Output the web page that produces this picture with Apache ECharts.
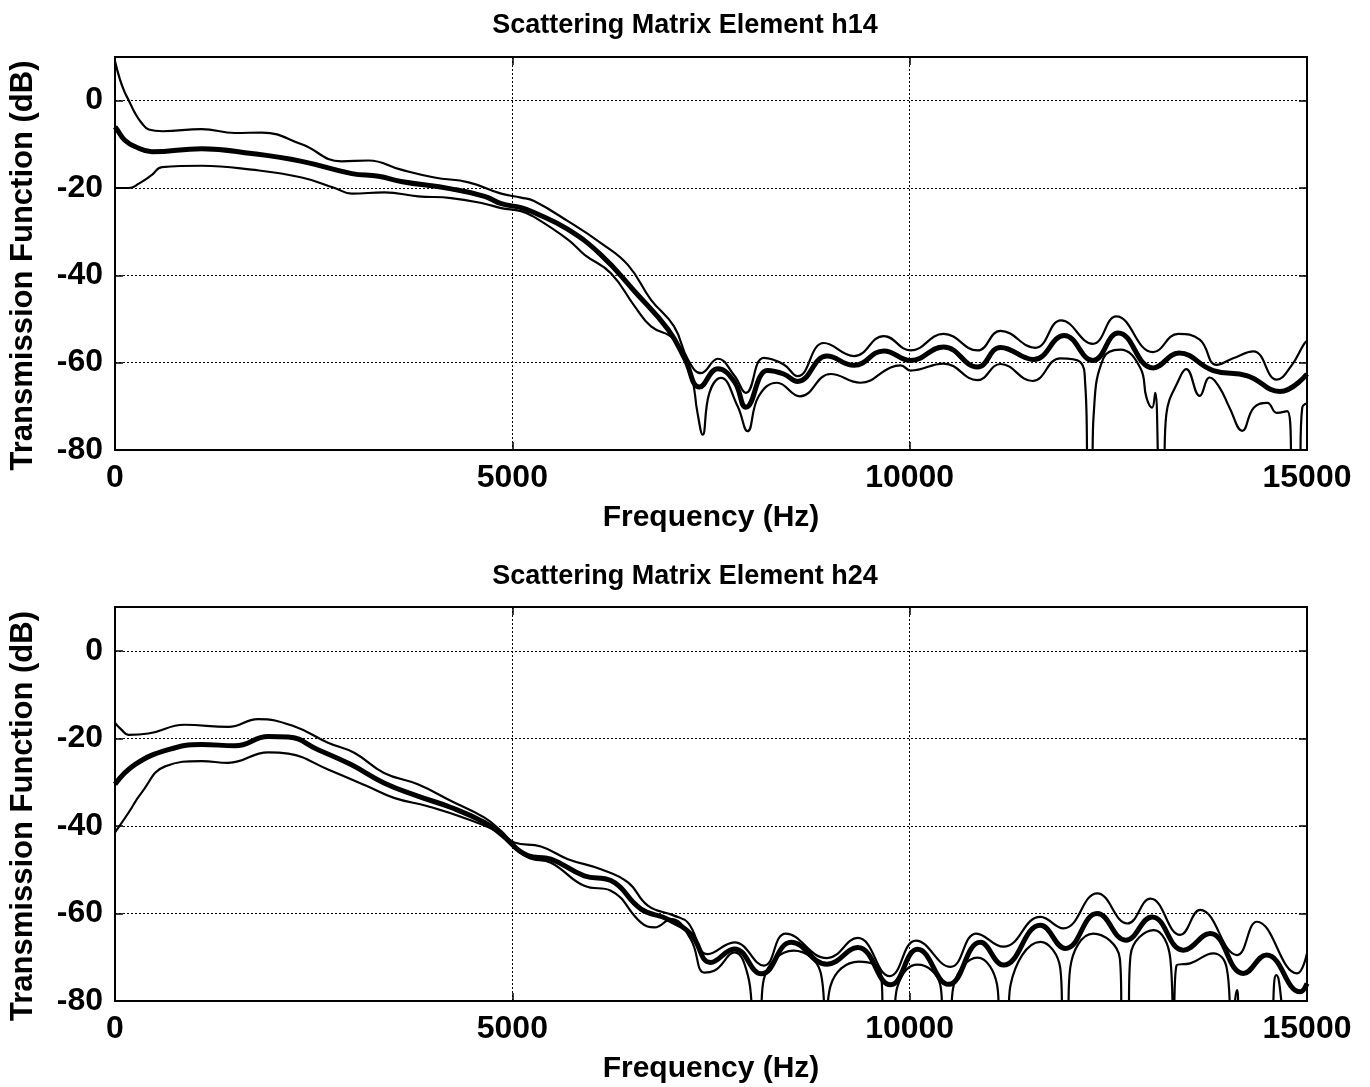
<!DOCTYPE html>
<html>
<head>
<meta charset="utf-8">
<title>Scattering Matrix Elements</title>
<script src="https://cdn.jsdelivr.net/npm/echarts@6/dist/echarts.min.js"></script>
<style>
  html, body { margin: 0; padding: 0; background: #fff; }
  #chart { width: 1370px; height: 1087px; }
</style>
</head>
<body>
<div id="chart"></div>
<script>
// panel titles and axis text
var titles = ['Scattering Matrix Element h14', 'Scattering Matrix Element h24'];
var xName = 'Frequency (Hz)';
var yName = 'Transmission Function (dB)';
var xTicks = [0, 5000, 10000, 15000];
var yTicks = [-80, -60, -40, -20, 0];

// values below -80 run off the bottom of the axes (clipped)
// h14: [frequency Hz, dB]
var h14Upper = [[0,9],[60,5],[120,2],[175,0],[250,-2.8],[330,-5],[425,-6.6],[600,-7],[1090,-6.5],[1510,-7.4],[1850,-7.3],
  [2350,-10],[2850,-13.9],[3190,-13.7],[3600,-15.8],[4020,-17.6],[4450,-18.7],[4860,-21.3],[5110,-22.2],[5273,-23],
  [5700,-27.6],[6115,-32.6],[6454,-37.6],[6745,-45.6],[7035,-51.7],[7210,-59.3],[7375,-62.4],[7585,-59.1],[7795,-63],
  [7940,-66.9],[8165,-58.9],[8415,-60.4],[8590,-63.1],[8920,-55.5],[9300,-58.5],[9675,-53.9],[10012,-57.2],[10427,-53.4],
  [10853,-57.2],[11143,-52.7],[11580,-56.6],[11905,-50.3],[12305,-55.7],[12600,-49.4],[13063,-57.6],[13380,-53.4],
  [13650,-54.7],[13860,-60.5],[14070,-59],[14325,-57.4],[14618,-63.9],[14800,-60.8],[14960,-55.8],[15000,-55]];
var h14Mean = [[0,-6],[25,-6.6],[120,-9],[250,-10.5],[465,-11.7],[1090,-11],[1720,-12.1],[2350,-13.9],[2980,-16.7],
  [3315,-17.3],[3600,-18.5],[4230,-20.2],[4650,-21.9],[4860,-23.6],[5110,-24.5],[5273,-25.6],[5700,-29.5],[6115,-35.3],
  [6540,-43.7],[6960,-52.4],[7170,-59.1],[7355,-65.6],[7585,-61.4],[7795,-64.4],[7940,-70.2],[8210,-61.8],[8415,-62.6],
  [8590,-64.3],[8960,-58.5],[9300,-60.6],[9675,-57.3],[10012,-59.5],[10427,-56.4],[10853,-61],[11143,-56.5],[11560,-59.3],
  [11945,-53.8],[12305,-59.5],[12625,-53.2],[13063,-61.2],[13390,-57.8],[13820,-61.8],[14250,-63],[14660,-66.6],[15000,-62.6]];
var h14Lower = [[0,-20],[175,-20],[300,-19],[465,-17],[590,-15.2],[1090,-14.9],[1720,-15.8],[2350,-17.6],[2765,-20],
  [2980,-21.3],[3390,-21],[3815,-21.9],[4230,-22.3],[4650,-23.6],[4860,-24.6],[5110,-25.3],[5273,-26.6],[5700,-31.8],
  [5910,-35.3],[6240,-39.5],[6540,-47.1],[6745,-51.7],[7035,-54.7],[7245,-62.4],[7330,-71.5],[7395,-76.5],[7480,-66.9],
  [7625,-63.5],[7835,-70],[7960,-75.7],[8100,-67.7],[8330,-64.6],[8620,-67.7],[9005,-62.6],[9380,-64.6],[9760,-61.1],
  [9886,-60.6],[10012,-61.8],[10427,-60.2],[10853,-64],[11143,-60.3],[11545,-64.2],[11896,-59],[12145,-59.8],[12210,-65.2],
  [12250,-86],[12290,-86],[12315,-72],[12440,-58.9],[12650,-57],[12900,-61.1],[12980,-68],[13050,-70.3],[13090,-66.9],
  [13150,-86],[13190,-86],[13230,-71.8],[13400,-63.4],[13480,-61.5],[13650,-67.6],[13775,-63.4],[13900,-65.7],
  [14025,-70.3],[14185,-75.6],[14330,-70.3],[14500,-69.2],[14620,-71.5],[14750,-71.1],[14830,-86],[14895,-86],
  [14940,-70.3],[15000,-69.3]];

// h24: [frequency Hz, dB]
var h24Upper = [[0,-16.5],[80,-18],[170,-19.2],[420,-18.9],[875,-16.9],[1425,-17.4],[1800,-15.6],[2260,-17.3],[2680,-21],
  [3010,-23.3],[3385,-27.9],[3810,-30.5],[4230,-34.3],[4650,-38.1],[4860,-41.2],[5025,-43.8],[5360,-44.7],[5700,-47.6],
  [6115,-49.9],[6455,-52.9],[6705,-58.2],[7035,-60.5],[7210,-62.1],[7460,-69.3],[7795,-66.6],[8165,-71.9],[8440,-64.6],
  [8960,-70.2],[9345,-65.6],[9750,-74.3],[10080,-66.2],[10514,-72.2],[10840,-64.6],[11180,-67.6],[11645,-60.8],
  [11935,-63.4],[12360,-55.4],[12740,-62.3],[13030,-56.6],[13405,-64.9],[13655,-59.2],[14120,-69.5],[14370,-61.9],
  [14875,-73.7],[15000,-69.1]];
var h24Mean = [[0,-30.5],[250,-26],[670,-22.6],[1090,-21.4],[1510,-21.7],[1930,-19.6],[2180,-19.7],[2555,-22.6],
  [2970,-26],[3385,-30.2],[3810,-33.2],[4230,-35.8],[4650,-39.2],[4860,-41.9],[5195,-46.8],[5485,-47.6],[5905,-51.4],
  [6240,-52.5],[6620,-59],[6955,-61.3],[7245,-64.7],[7495,-71.2],[7795,-68.1],[8135,-73.8],[8510,-66.6],[8960,-71.6],
  [9345,-67.8],[9760,-76.3],[10100,-68.2],[10490,-76.2],[10890,-66.6],[11180,-71.8],[11645,-62.7],[11960,-68],
  [12360,-60],[12720,-66.1],[13050,-60.8],[13445,-68.4],[13780,-64.6],[14200,-73.7],[14490,-69.5],[14915,-77.9],[15000,-76]];
var h24Lower = [[0,-41.5],[170,-37],[335,-32.4],[630,-26.4],[1090,-25.2],[1425,-25.6],[1930,-23.2],[2180,-23.5],
  [2680,-27.1],[3170,-30.9],[3510,-33.6],[3935,-35.5],[4440,-38.5],[4860,-41.9],[5195,-47.2],[5485,-48.4],[5905,-53.7],
  [6240,-54.8],[6620,-62.1],[6790,-63.2],[7000,-61.3],[7245,-65.9],[7415,-73.5],[7540,-73.1],[7795,-68.9],[7965,-74.2],
  [8050,-86],[8110,-86],[8165,-75],[8540,-68.5],[8880,-73.5],[8945,-86],[9005,-76.5],[9360,-71],[9635,-73.5],[9680,-86],
  [9780,-86],[9850,-76.5],[10100,-71.7],[10385,-76.3],[10430,-86],[10500,-86],[10556,-76.3],[10853,-70.1],[11100,-76.3],
  [11140,-86],[11225,-86],[11270,-76.3],[11645,-66.5],[11895,-72.5],[11935,-86],[11980,-86],[12020,-72.5],[12310,-64.6],
  [12645,-70.3],[12680,-86],[12740,-86],[12780,-69.5],[13070,-63.8],[13280,-70.3],[13320,-86],[13360,-71.8],
  [13530,-71.4],[13820,-69.1],[13990,-72.5],[14050,-86],[14120,-77.5],[14160,-86],[14500,-86],[14615,-74.1],
  [14790,-86],[15000,-86]];

var FONT = 'Liberation Sans';
var chart = echarts.init(document.getElementById('chart'));

function xAxisFor(g, bottom) {
  return {
    type: 'value', gridIndex: g, position: bottom ? 'bottom' : 'top',
    min: xTicks[0], max: xTicks[xTicks.length - 1], interval: 5000,
    name: bottom ? xName : '', nameLocation: 'middle', nameGap: 53,
    nameTextStyle: { fontFamily: FONT, fontSize: 30, fontWeight: 'bold', color: '#000' },
    axisLine: { show: false, onZero: false },
    axisTick: { show: true, inside: true, length: 8, lineStyle: { color: '#000', width: 1.5 } },
    axisLabel: { show: bottom, margin: 12, fontFamily: FONT, fontSize: 32, fontWeight: 'bold', color: '#000',
      formatter: function (v) { return String(v); } },
    splitLine: { show: bottom, lineStyle: { color: '#000', width: 1, type: [2, 2] } }
  };
}

function yAxisFor(g, left) {
  return {
    type: 'value', gridIndex: g, position: left ? 'left' : 'right',
    min: yTicks[0], max: 10, interval: 20,
    name: left ? yName : '', nameLocation: 'middle', nameGap: 76,
    // label sits a little below the middle of the axes, as in the original
    nameTextStyle: { fontFamily: FONT, fontSize: 31, fontWeight: 'bold', color: '#000', padding: [0, 24, 0, 0] },
    axisLine: { show: false, onZero: false },
    axisTick: { show: true, inside: true, length: 8, lineStyle: { color: '#000', width: 1.5 } },
    axisLabel: { show: left, margin: 12, showMaxLabel: false, fontFamily: FONT, fontSize: 32, fontWeight: 'bold', color: '#000' },
    splitLine: { show: left, lineStyle: { color: '#000', width: 1, type: [2, 2] } }
  };
}

function curve(data, axisIdx, width) {
  return {
    type: 'line', data: data, xAxisIndex: axisIdx, yAxisIndex: axisIdx,
    showSymbol: false, smooth: 0.45, clip: true,
    lineStyle: { color: '#000', width: width }
  };
}

chart.setOption({
  animation: false,
  backgroundColor: '#fff',
  title: [
    { text: titles[0], left: 'center', top: 7, textStyle: { fontFamily: FONT, fontSize: 27, fontWeight: 'bold', color: '#000' } },
    { text: titles[1], left: 'center', top: 558, textStyle: { fontFamily: FONT, fontSize: 27, fontWeight: 'bold', color: '#000' } }
  ],
  grid: [
    { left: 113, right: 63, top: 57, height: 393, show: true, borderColor: '#000', borderWidth: 2, backgroundColor: '#fff' },
    { left: 113, right: 63, top: 607, height: 394, show: true, borderColor: '#000', borderWidth: 2, backgroundColor: '#fff' }
  ],
  xAxis: [xAxisFor(0, true), xAxisFor(1, true), xAxisFor(0, false), xAxisFor(1, false)],
  yAxis: [yAxisFor(0, true), yAxisFor(1, true), yAxisFor(0, false), yAxisFor(1, false)],
  series: [
    curve(h14Upper, 0, 2.2), curve(h14Lower, 0, 2.2), curve(h14Mean, 0, 5),
    curve(h24Upper, 1, 2.2), curve(h24Lower, 1, 2.2), curve(h24Mean, 1, 5)
  ]
});
</script>
</body>
</html>
